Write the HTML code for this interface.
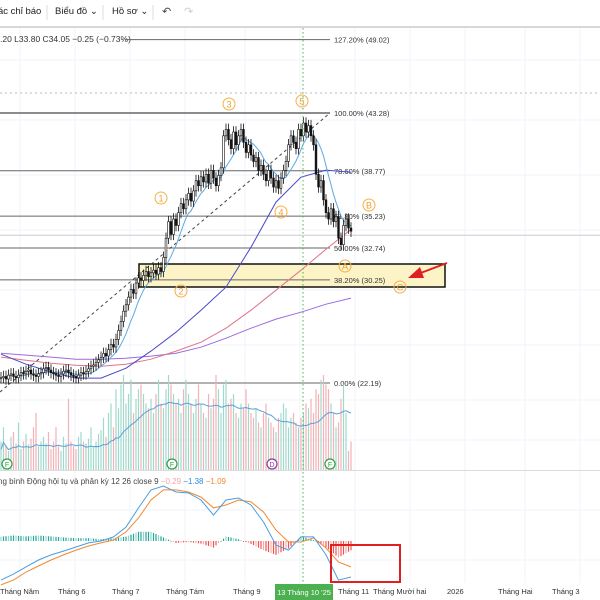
<!DOCTYPE html>
<html><head><meta charset="utf-8"><style>
html,body{margin:0;padding:0;background:#fff;width:600px;height:600px;overflow:hidden}
svg{display:block;font-family:"Liberation Sans","Noto Sans CJK SC",sans-serif}
</style></head><body>
<svg id="c" width="600" height="600" viewBox="0 0 600 600">
<rect x="0" y="0" width="600" height="600" fill="#fff"/>
<g id="grid"></g>
<g>
<text x="-2" y="14" font-size="9.5" fill="#222">ác chỉ báo</text>
<line x1="47" y1="5" x2="47" y2="20" stroke="#ddd"/>
<text x="55" y="14" font-size="9.5" fill="#222">Biểu đồ ⌄</text>
<line x1="103" y1="5" x2="103" y2="20" stroke="#ddd"/>
<text x="112" y="14" font-size="9.5" fill="#222">Hồ sơ ⌄</text>
<line x1="153" y1="5" x2="153" y2="20" stroke="#ddd"/>
<text x="162" y="15" font-size="11" fill="#444">↶</text>
<text x="184" y="15" font-size="11" fill="#ccc">↷</text>
<line x1="0" y1="27" x2="600" y2="27" stroke="#ccc" stroke-width="1.5"/>
</g>
<text x="0" y="42" font-size="8.5" fill="#333">.20 L33.80 C34.05 −0.25 (−0.73%)</text>
<g id="main"></g>
<g id="vol"></g>
<g id="macd"></g>
<g id="ann"></g>
<g id="axis"></g>
</svg>
<script>
const closes=[22.6,22.7,22.5,22.8,22.9,22.7,22.6,22.8,23.0,22.9,
23.1,23.2,22.9,22.8,22.7,22.9,23.0,23.3,23.4,23.2,
23.0,22.9,22.8,22.7,22.9,23.1,23.2,23.0,22.8,22.7,
22.6,22.8,23.0,22.9,23.1,23.3,23.5,23.6,23.8,24.0,
24.2,24.5,24.3,24.8,25.2,25.0,25.6,26.3,27.0,27.8,
28.3,28.9,29.5,29.2,30.0,30.4,30.2,30.6,30.9,30.5,
30.8,31.0,30.7,31.2,30.9,32.0,33.5,34.8,33.8,35.0,
34.5,35.5,36.2,35.8,36.5,37.0,36.4,37.2,38.0,37.6,
38.3,37.9,38.5,37.8,38.8,38.2,37.6,38.4,39.0,41.5,
42.0,41.2,40.5,41.8,40.8,41.5,42.0,41.0,40.2,40.8,
40.0,39.5,39.8,38.8,39.2,38.5,38.0,38.8,38.2,37.5,
38.0,37.4,38.2,38.8,39.5,40.8,41.5,41.0,40.5,42.0,
41.5,42.5,41.8,42.3,41.5,40.8,38.5,37.5,38.0,36.5,
35.5,35.0,35.8,34.8,35.2,33.5,33.0,34.5,35.0,34.3,34.05];
const volumes=[30,45,25,20,35,40,28,50,22,30,38,27,33,45,60,25,30,35,28,40,
22,30,45,25,20,35,28,75,30,25,22,35,40,30,28,33,45,25,30,38,
42,55,35,60,70,45,85,65,90,100,70,80,95,60,75,85,90,80,70,65,
75,60,80,95,70,65,85,100,90,80,70,75,60,85,95,80,70,60,75,90,
70,60,55,80,65,75,100,85,60,90,95,70,75,80,60,55,70,65,85,70,
60,55,65,50,45,60,70,55,50,45,40,55,60,70,65,45,55,60,50,45,
55,60,70,65,75,60,85,80,95,100,90,85,70,60,45,50,75,90,60,20,30];
const maSampleStep=10;
const ma50=[24.44,23.66,23.04,22.57,22.57,23.35,24.68,26.16,27.88,29.68,32.80,36.32,38.27,38.82,38.66];
const ma100=[24.21,23.97,23.74,23.58,23.50,23.66,24.05,24.68,25.38,26.47,27.88,29.44,31.00,32.64,34.20];
const ma200=[24.52,24.37,24.21,24.05,24.05,24.13,24.29,24.52,24.99,25.69,26.47,27.18,27.72,28.35,28.82];
const macdStep=5;
const macdLine=[-1.63,-1.38,-1.08,-0.79,-0.58,-0.42,-0.25,-0.08,0,0.17,0.58,1.38,2.13,2.29,2.04,2.0,1.71,1.08,1.71,1.79,1.5,0.79,-0.17,-0.38,0.17,0.17,-0.58,-1.63,-1.5];
const signalLine=[-1.83,-1.63,-1.29,-1.04,-0.79,-0.58,-0.38,-0.21,-0.08,0.04,0.38,0.96,1.71,2.13,2.13,2.04,1.83,1.38,1.5,1.71,1.63,1.21,0.46,-0.04,-0.04,0.13,-0.29,-0.88,-1.08];
const fibLevels=["127.20% (49.02)","100.00% (43.28)","78.60% (38.77)","61.80% (35.23)","50.00% (32.74)","38.20% (30.25)","0.00% (22.19)"];
const fibPrices=[49.02,43.28,38.77,35.23,32.74,30.25,22.19];
const monthLabels=["Tháng Năm","Tháng 6","Tháng 7","Tháng Tám","Tháng 9","Tháng 11","Tháng Mười hai","2026","Tháng Hai","Tháng 3"];
const monthX=[0,58,112,166,233,338,373,447,498,552];

const NS="http://www.w3.org/2000/svg";
function mk(tag,attrs,parent){const e=document.createElementNS(NS,tag);for(const k in attrs)e.setAttribute(k,attrs[k]);parent.appendChild(e);return e;}
const X=i=>1+i*2.5;
const Y=p=>383-(p-22.19)*12.8;
const VY=v=>470-v*0.95;
const MY=v=>541-v*24;
const G=id=>document.getElementById(id);

const grid=G('grid');
[20,75,130,185,245,300,355,410,465,525,580].forEach(x=>{const l=mk('line',{x1:x,y1:28,x2:x,y2:583,stroke:'#f0f3f8'},grid);});
[60,120,175,230,290,345,400,440,510,560].forEach(y=>{const l=mk('line',{x1:0,y1:y,x2:600,y2:y,stroke:'#f0f3f8'},grid);});

const main=G('main');
let l=mk('line',{x1:0,y1:93,x2:600,y2:93,stroke:'#bbb','stroke-dasharray':'2,3'},main);

l=mk('line',{x1:0,y1:Y(34.05)+4,x2:600,y2:Y(34.05)+4,stroke:'#ccc'},main);

l=mk('rect',{x:139,y:264,width:306,height:23,fill:'#fcf3c6',stroke:'#111','stroke-width':1.5},main);

fibPrices.forEach((p,k)=>{
 const y=Y(p);
 const ln=mk('line',{x1:k===0?125:0,y1:y,x2:330,y2:y,stroke:'#666','stroke-width':k===1?1.5:1},main);
 
 const t=mk('text',{x:334,y:y+3,'font-size':7.5,fill:'#333'},main);t.textContent=fibLevels[k];
 
});
l=mk('line',{x1:0,y1:392,x2:330,y2:113,stroke:'#444','stroke-dasharray':'3,3'},main);

function sampledPath(arr,step,color,name,sw){
 let d='';arr.forEach((v,k)=>{d+=(k?'L':'M')+X(k*step).toFixed(1)+','+Y(v).toFixed(1);});
 const p=mk('path',{d:d,fill:'none',stroke:color,'stroke-width':sw||1},main);
 
}
sampledPath(ma200,maSampleStep,'#9c6ae0','ma200-line');
sampledPath(ma100,maSampleStep,'#e0748a','ma100-line');
sampledPath(ma50,maSampleStep,'#4b47c9','ma50-line');
(function(){let d='';for(let i=8;i<closes.length;i++){let s=0;for(let j=i-8;j<=i;j++)s+=closes[j];d+=(i>8?'L':'M')+X(i).toFixed(1)+','+Y(s/9).toFixed(1);}
 const p=mk('path',{d:d,fill:'none',stroke:'#5aa9e6','stroke-width':1},main);
 })();
closes.forEach((c,i)=>{
 const o=i?closes[i-1]:c;const hi=Math.max(o,c)+0.45,lo=Math.min(o,c)-0.45;
 const w=mk('line',{x1:X(i),y1:Y(hi),x2:X(i),y2:Y(lo),stroke:'#111','stroke-width':0.8},main);
 
 const top=Y(Math.max(o,c)),h=Math.max(1,Math.abs(Y(o)-Y(c)));
 const b=mk('rect',{x:X(i)-0.9,y:top,width:1.8,height:h,fill:c>=o?'#fff':'#111',stroke:'#111','stroke-width':0.6},main);
 
});

const vol=G('vol');
volumes.forEach((v,i)=>{
 const up=i===0||closes[i]>=closes[i-1];
 const r=mk('rect',{x:X(i)-0.6,y:VY(v),width:1.2,height:470-VY(v),fill:up?'#9fd9cb':'#f5b1b5'},vol);
 
});
(function(){let d='';for(let i=0;i<volumes.length;i++){let s=0,n=0;for(let j=Math.max(0,i-19);j<=i;j++){s+=volumes[j];n++;}d+=(i?'L':'M')+X(i).toFixed(1)+','+(VY(s/n)+8).toFixed(1);}
 const p=mk('path',{d:d,fill:'none',stroke:'#5aa0d8','stroke-width':1},vol);
 })();
l=mk('line',{x1:0,y1:470.5,x2:600,y2:470.5,stroke:'#d8dbe0'},vol);

[[7,'F','#2ea043'],[172,'F','#2ea043'],[272,'D','#8e3a9d'],[330,'F','#2ea043']].forEach(e=>{
 const c=mk('circle',{cx:e[0],cy:464,r:5,fill:'#fff',stroke:e[2],'stroke-width':1.2},vol);
 
 const t=mk('text',{x:e[0],y:467,'font-size':7,'text-anchor':'middle',fill:e[2]},vol);t.textContent=e[1];
});

const mg=G('macd');
let t=mk('text',{x:-2,y:484,'font-size':8,fill:'#444'},mg);
t.innerHTML='ng bình Động hội tụ và phân kỳ 12 26 close 9 <tspan fill="#f4a3a8">−0.29</tspan> <tspan fill="#2f8ae0">−1.38</tspan> <tspan fill="#f08a30">−1.09</tspan>';

for(let i=0;i<closes.length;i++){
 const k=Math.min(Math.floor(i/macdStep),macdLine.length-2),f=(i-k*macdStep)/macdStep;
 const m=macdLine[k]+(macdLine[k+1]-macdLine[k])*f,s=signalLine[k]+(signalLine[k+1]-signalLine[k])*f;
 const h=(m-s)*22;const y=h>0?541-h:541;
 const r=mk('rect',{x:X(i)-0.6,y:y,width:1.2,height:Math.max(0.8,Math.abs(h)),fill:h>0?(i%3?'#26a69a':'#8fd6c9'):(i%3?'#ef5350':'#f7a9a7')},mg);
 
}
function macdPath(arr,color,name){let d='';arr.forEach((v,k)=>{d+=(k?'L':'M')+X(k*macdStep).toFixed(1)+','+MY(v).toFixed(1);});
 const p=mk('path',{d:d,fill:'none',stroke:color,'stroke-width':1},mg);}
macdPath(signalLine,'#f08a30','signal-line');
macdPath(macdLine,'#4a9de0','macd-line');

const ann=G('ann');
l=mk('line',{x1:303,y1:28,x2:303,y2:584,stroke:'#4caf50','stroke-dasharray':'1.5,2.5'},ann);

[[229,104,'3'],[302,101,'5'],[161,198,'1'],[281,212,'4'],[181,291,'2'],[369,205,'B'],[345,266,'A'],[400,287,'C']].forEach(w=>{
 const c=mk('circle',{cx:w[0],cy:w[1],r:6,fill:'none',stroke:'#f5b041','stroke-width':1},ann);
 
 const tt=mk('text',{x:w[0],y:w[1]+3.5,'font-size':9,'text-anchor':'middle',fill:'#f0a030'},ann);tt.textContent=w[2];
});
l=mk('line',{x1:447,y1:263,x2:418,y2:274,stroke:'#e02020','stroke-width':2},ann);

l=mk('polygon',{points:'408,278 420,267 424,278',fill:'#e02020'},ann);

l=mk('rect',{x:331,y:545,width:69,height:37,fill:'none',stroke:'#e02020','stroke-width':2},ann);


const ax=G('axis');
monthLabels.forEach((m,k)=>{const tx=mk('text',{x:monthX[k],y:594,'font-size':7.5,fill:'#333'},ax);tx.textContent=m;
 });
l=mk('rect',{x:275,y:584,width:58,height:16,fill:'#4caf50'},ax);

t=mk('text',{x:304,y:595,'font-size':7.5,fill:'#fff','text-anchor':'middle'},ax);t.textContent="13 Tháng 10 '25";
</script>
</body></html>
